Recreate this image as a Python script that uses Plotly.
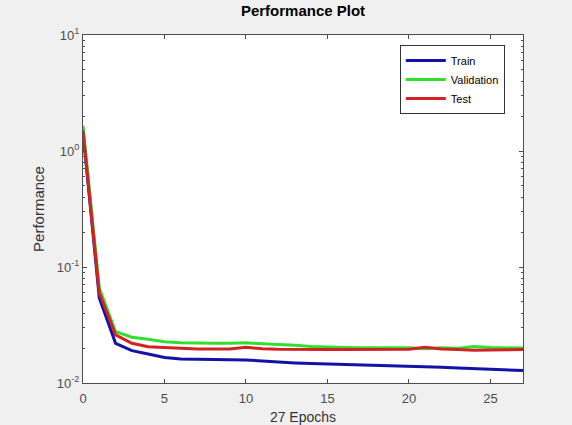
import plotly.graph_objects as go

epochs = list(range(0, 28))
train = [1.45, 0.054, 0.022, 0.019, 0.0178, 0.0166, 0.0161, 0.016, 0.016, 0.016, 0.0158, 0.0155, 0.0151,
         0.0149, 0.0147, 0.0146, 0.0144, 0.0142, 0.0141, 0.014, 0.0139, 0.0138, 0.0137, 0.0135, 0.0133,
         0.0132, 0.013, 0.0128]
validation = [1.65, 0.066, 0.0277, 0.0248, 0.0238, 0.0227, 0.0222, 0.022, 0.022, 0.022, 0.0222, 0.0218,
              0.0216, 0.0212, 0.0206, 0.0203, 0.0202, 0.0201, 0.0201, 0.0201, 0.0201, 0.0197, 0.0201, 0.0199,
              0.0206, 0.0202, 0.0201, 0.02]
test = [1.5, 0.06, 0.026, 0.022, 0.0205, 0.0201, 0.0197, 0.0196, 0.0196, 0.0196, 0.0203, 0.0197, 0.0195,
        0.0194, 0.0194, 0.0194, 0.0194, 0.0194, 0.0194, 0.0194, 0.0195, 0.0203, 0.0196, 0.0194,
        0.0192, 0.0193, 0.0194, 0.0194]

ytick_vals = [0.01, 0.1, 1, 10]
ytick_text = ["10<sup>-2</sup>", "10<sup>-1</sup>", "10<sup>0</sup>", "10<sup>1</sup>"]
xtick_vals = [0, 5, 10, 15, 20, 25]

FONT = "Liberation Sans, Arial, sans-serif"

fig = go.Figure()
fig.add_trace(go.Scatter(x=epochs, y=train, mode="lines", name="Train",
                         line=dict(color="#1212a8", width=3)))
fig.add_trace(go.Scatter(x=epochs, y=validation, mode="lines", name="Validation",
                         line=dict(color="#2fe02f", width=3)))
fig.add_trace(go.Scatter(x=epochs, y=test, mode="lines", name="Test",
                         line=dict(color="#d42222", width=3)))

axis_common = dict(showgrid=False, zeroline=False, showline=True, linecolor="#4d4d4d", linewidth=1,
                   mirror="ticks", ticks="inside", tickcolor="#4d4d4d", ticklen=4, automargin=False,
                   tickfont=dict(family=FONT, size=13, color="#4d4d4d"))

fig.update_layout(
    width=572, height=425,
    paper_bgcolor="#f0f0f0", plot_bgcolor="white",
    margin=dict(l=83, r=49, t=35, b=42, autoexpand=False),
    title=dict(text="<b>Performance Plot</b>", x=0.5, xref="paper", y=0.988, yanchor="top",
               font=dict(family=FONT, size=15, color="black")),
    xaxis=dict(range=[0, 27], tickvals=xtick_vals, ticklabelstandoff=3,
               title=dict(text="27 Epochs", standoff=14,
                          font=dict(family=FONT, size=14, color="#333333")),
               **axis_common),
    yaxis=dict(type="log", range=[-2, 1], tickvals=ytick_vals, ticktext=ytick_text,
               title=dict(text="Performance", standoff=8,
                          font=dict(family=FONT, size=15, color="#333333")),
               minor=dict(ticks="inside", ticklen=2, tickcolor="#4d4d4d",
                          tickvals=[v * m for v in [0.01, 0.1, 1] for m in range(2, 10)]),
               **axis_common),
    legend=dict(x=0.72, y=0.971, xanchor="left", yanchor="top", bgcolor="white",
                bordercolor="#333333", borderwidth=1, tracegroupgap=0,
                font=dict(family=FONT, size=11, color="black"),
                itemwidth=40),
    showlegend=True,
)

fig.write_html("out.html", config={"displayModeBar": False},
               post_script="document.body.style.margin='0px';document.body.style.background='#f0f0f0';")
